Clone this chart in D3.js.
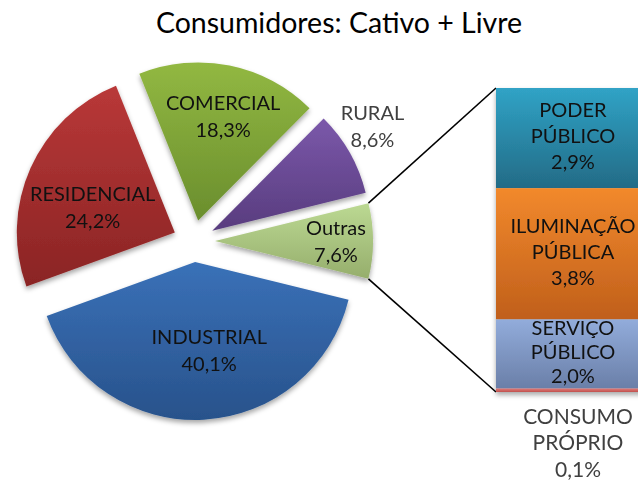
<!DOCTYPE html>
<html>
<head>
<meta charset="utf-8">
<script src="https://cdn.jsdelivr.net/npm/d3@7"></script>
<style>
  html, body { margin: 0; padding: 0; background: #fff; }
  svg { display: block; }
  text { font-family: Lato, "Open Sans", sans-serif; }
</style>
</head>
<body>
<svg id="chart" width="638" height="484"></svg>
<script>
// Main pie slices (share of consumption, %)
const mainCategories = ["INDUSTRIAL", "RESIDENCIAL", "COMERCIAL", "RURAL"];
const mainValues = [40.1, 24.2, 18.3, 8.6];

// Aggregated slice that is broken out into the bar
const otherCategory = "Outras";
const otherValue = 7.6;

// Breakdown of "Outras" (stacked bar, top to bottom)
const subCategories = [["PODER", "PÚBLICO"], ["ILUMINAÇÃO", "PÚBLICA"], ["SERVIÇO", "PÚBLICO"], ["CONSUMO", "PRÓPRIO"]];
const subValues = [2.9, 3.8, 2.0, 0.1];

const title = "Consumidores: Cativo + Livre";

const fmt = v => d3.format(".1f")(v).replace(".", ",") + "%";

// ---- layout ----
const cx = 194, cy = 241, R = 158, explode = 21;
const barX0 = 496, barX1 = 650, barTop = 88, barBottom = 392;

// gradient stops (top, bottom) per category
const fills = {
  "Outras": ["#bcd993", "#96ae6c"],
  "INDUSTRIAL": ["#3a71b8", "#28528b"],
  "RESIDENCIAL": ["#b93838", "#8a2424"],
  "COMERCIAL": ["#92b842", "#6a8e2d"],
  "RURAL": ["#7b58aa", "#583c7e"],
  "PODER PÚBLICO": ["#30a3c6", "#236b86"],
  "ILUMINAÇÃO PÚBLICA": ["#f2892c", "#c05f1b"],
  "SERVIÇO PÚBLICO": ["#92acdb", "#6a7fa8"],
  "CONSUMO PRÓPRIO": ["#e07a78", "#c0504d"]
};

// label anchor relative to each exploded slice tip: [distance, angle in degrees]
const labelPolar = {
  "Outras": [121, 90],
  "INDUSTRIAL": [90, 171],
  "RESIDENCIAL": [86, 287],
  "COMERCIAL": [107, 13.5],
  "RURAL": [191, 57]
};

const svg = d3.select("#chart");
const defs = svg.append("defs");

Object.entries(fills).forEach(([k, c], i) => {
  const g = defs.append("linearGradient")
    .attr("id", "grad" + i).attr("x1", 0).attr("y1", 0).attr("x2", 0).attr("y2", 1);
  g.append("stop").attr("offset", "0%").attr("stop-color", c[0]);
  g.append("stop").attr("offset", "100%").attr("stop-color", c[1]);
  fills[k].id = "grad" + i;
});

const shadow = defs.append("filter").attr("id", "shadow")
  .attr("x", "-20%").attr("y", "-20%").attr("width", "140%").attr("height", "140%");
shadow.append("feDropShadow").attr("dx", 0).attr("dy", 3).attr("stdDeviation", 2.5)
  .attr("flood-color", "#000").attr("flood-opacity", 0.35);

// ---- title ----
svg.append("text")
  .attr("x", 339).attr("y", 33)
  .attr("text-anchor", "middle")
  .attr("font-size", 28.5)
  .attr("font-weight", 400)
  .attr("fill", "#000")
  .text(title);

// ---- pie ----
const pieData = [{ name: otherCategory, v: otherValue }]
  .concat(mainCategories.map((c, i) => ({ name: c, v: mainValues[i] })));
const total = d3.sum(pieData, d => d.v);
const half = otherValue / total * Math.PI;

const pie = d3.pie().sort(null).value(d => d.v)
  .startAngle(Math.PI / 2 - half).endAngle(Math.PI / 2 - half + 2 * Math.PI);
const arcs = pie(pieData);
const arc = d3.arc().innerRadius(0).outerRadius(R);

const tip = a => {
  const m = (a.startAngle + a.endAngle) / 2;
  return [cx + explode * Math.sin(m), cy - explode * Math.cos(m)];
};

const slices = svg.append("g").attr("filter", "url(#shadow)");
slices.selectAll("path").data(arcs).join("path")
  .attr("transform", d => `translate(${tip(d)})`)
  .attr("d", arc)
  .attr("fill", d => `url(#${fills[d.data.name].id})`);

// ---- connector lines from the "Outras" slice to the bar ----
const other = arcs[0];
const [ox, oy] = tip(other);
const corner = ang => [ox + R * Math.sin(ang), oy - R * Math.cos(ang)];

// ---- stacked bar ----
const yScale = d3.scaleLinear().domain([0, d3.sum(subValues)]).range([barTop, barBottom]);
const stackData = [];
let acc = 0;
subValues.forEach((v, i) => {
  stackData.push({ name: subCategories[i].join(" "), lines: subCategories[i], v, y0: acc, y1: acc + v });
  acc += v;
});

const lineG = svg.append("g").attr("stroke", "#000").attr("stroke-width", 1.6);
const cTop = corner(other.startAngle), cBot = corner(other.endAngle);
lineG.append("line").attr("x1", cTop[0]).attr("y1", cTop[1]).attr("x2", barX0).attr("y2", yScale(0));
lineG.append("line").attr("x1", cBot[0]).attr("y1", cBot[1]).attr("x2", barX0).attr("y2", yScale(acc));

svg.append("g").attr("filter", "url(#shadow)")
  .selectAll("rect").data(stackData).join("rect")
  .attr("x", barX0).attr("width", barX1 - barX0)
  .attr("y", d => yScale(d.y0))
  .attr("height", d => yScale(d.y1) - yScale(d.y0))
  .attr("fill", d => `url(#${fills[d.name].id})`);

// ---- labels ----
const lineH = 27;
function multiLabel(g, x, yc, lines, size, color, lh) {
  const t = g.append("text")
    .attr("text-anchor", "middle")
    .attr("font-size", size)
    .attr("fill", color);
  const n = lines.length;
  lines.forEach((s, i) => {
    t.append("tspan").attr("x", x)
      .attr("y", yc + (i - (n - 1) / 2) * lh)
      .attr("dy", "0.35em")
      .text(s);
  });
}

const labels = svg.append("g");
arcs.forEach(a => {
  const [tx, ty] = tip(a);
  const [dist, deg] = labelPolar[a.data.name];
  const r = deg * Math.PI / 180;
  const x = tx + dist * Math.sin(r), y = ty - dist * Math.cos(r);
  const outside = a.data.name === "RURAL";
  multiLabel(labels, x, y, [a.data.name, fmt(a.data.v)], 20, outside ? "#404040" : "#111", lineH);
});

const barMid = (barX0 + barX1) / 2;
stackData.forEach(d => {
  const lines = d.lines.concat([fmt(d.v)]);
  if (d.v < 0.5) {
    multiLabel(labels, barMid + 5, yScale(d.y1) + 51, lines, 21, "#404040", 26.5);
  } else {
    multiLabel(labels, barMid, (yScale(d.y0) + yScale(d.y1)) / 2 - 2, lines, 20, "#111", d.v < 2.5 ? 24 : 26);
  }
});
</script>
</body>
</html>
